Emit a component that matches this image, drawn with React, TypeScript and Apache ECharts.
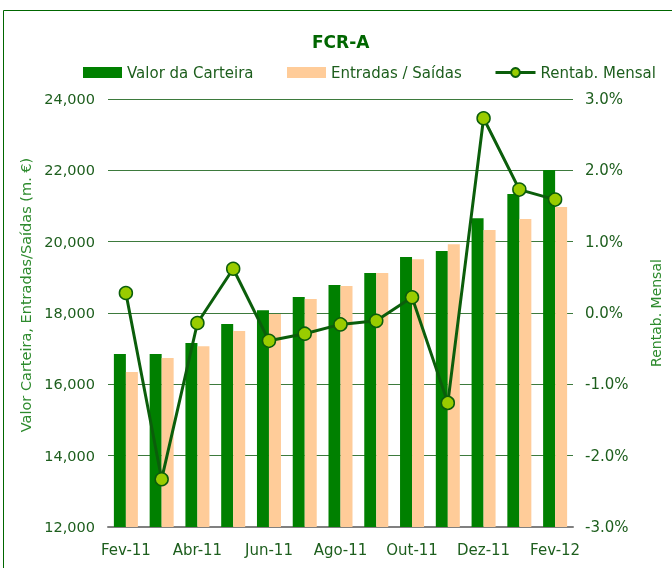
import React, { useEffect, useRef } from "react";
import * as echarts from "echarts";

const categories = ["Fev-11", "Mar-11", "Abr-11", "Mai-11", "Jun-11", "Jul-11", "Ago-11", "Set-11", "Out-11", "Nov-11", "Dez-11", "Jan-12", "Fev-12"];
const valorCarteira = [16850, 16850, 17160, 17690, 18080, 18450, 18785, 19120, 19570, 19740, 20660, 21335, 22010];
const entradasSaidas = [16345, 16740, 17070, 17495, 17970, 18390, 18755, 19120, 19510, 19930, 20330, 20635, 20970];
const rentabMensal = [0.28, -2.33, -0.14, 0.62, -0.39, -0.29, -0.16, -0.11, 0.22, -1.26, 2.73, 1.73, 1.59];

const FONT = "DejaVu Sans, Verdana, sans-serif";
const DARK = "#1d5e1d";
const NAMECOL = "#2e8b2e";

const legendText = { color: DARK, fontSize: 15, fontFamily: FONT };

export default function App() {
  const ref = useRef<HTMLDivElement>(null);
  useEffect(() => {
    if (!ref.current) return;
    const chart = echarts.init(ref.current, undefined, { renderer: "svg" });
    chart.setOption({
      animation: false,
      textStyle: { fontFamily: FONT },
      title: {
        text: "FCR-A",
        left: 312,
        top: 33,
        padding: 0,
        textStyle: { color: "#006600", fontSize: 17, fontWeight: "bold", fontFamily: FONT },
      },
      legend: [
        {
          left: 83,
          top: 65,
          padding: 0,
          itemWidth: 39,
          itemHeight: 11,
          textStyle: legendText,
          data: [{ name: "Valor da Carteira", icon: "rect" }],
        },
        {
          left: 287,
          top: 65,
          padding: 0,
          itemWidth: 39,
          itemHeight: 11,
          textStyle: legendText,
          data: [{ name: "Entradas / Saídas", icon: "rect" }],
        },
        {
          left: 494,
          top: 65,
          padding: 0,
          itemWidth: 40,
          itemHeight: 11,
          textStyle: legendText,
          data: [{ name: "Rentab. Mensal", lineStyle: { width: 3 } }],
        },
      ],
      graphic: [
        {
          type: "rect",
          shape: { x: 3.5, y: 10.5, width: 720, height: 600 },
          style: { fill: "none", stroke: "#006600", lineWidth: 1 },
          silent: true,
        },
      ],
      grid: { left: 108, right: 99, top: 99, bottom: 41 },
      xAxis: {
        type: "category",
        data: categories,
        boundaryGap: true,
        axisLine: { onZero: false, lineStyle: { color: "#808080", width: 2 } },
        axisTick: { interval: 1, length: 5, lineStyle: { color: "#333333" } },
        axisLabel: { interval: 1, color: DARK, fontSize: 15, fontFamily: FONT, margin: 15 },
      },
      yAxis: [
        {
          type: "value",
          min: 12000,
          max: 24000,
          interval: 2000,
          name: "Valor Carteira, Entradas/Saídas (m. €)",
          nameLocation: "middle",
          nameGap: 74,
          nameTextStyle: { color: NAMECOL, fontSize: 14.5, fontFamily: FONT, padding: [0, 0, 0, 36] },
          axisLine: { show: false },
          axisTick: { show: false },
          axisLabel: {
            color: DARK,
            fontSize: 14.5,
            fontFamily: FONT,
            margin: 13,
            formatter: (v: number) => v.toLocaleString("en-US"),
          },
          splitLine: { lineStyle: { color: "#3d7a3d", width: 1 } },
        },
        {
          type: "value",
          min: -3,
          max: 3,
          interval: 1,
          name: "Rentab. Mensal",
          nameLocation: "middle",
          nameGap: 76,
          nameRotate: 90,
          nameTextStyle: { color: NAMECOL, fontSize: 14, fontFamily: FONT },
          axisLine: { show: false },
          axisTick: { show: false },
          splitLine: { show: false },
          axisLabel: {
            color: DARK,
            fontSize: 15,
            fontFamily: FONT,
            margin: 12,
            formatter: (v: number) => v.toFixed(1) + "%",
          },
        },
      ],
      series: [
        {
          name: "Valor da Carteira",
          type: "bar",
          data: valorCarteira,
          barWidth: 12,
          barGap: "0%",
          itemStyle: { color: "#008000" },
        },
        {
          name: "Entradas / Saídas",
          type: "bar",
          data: entradasSaidas,
          barWidth: 12,
          barGap: "0%",
          itemStyle: { color: "#ffcc99" },
        },
        {
          name: "Rentab. Mensal",
          type: "line",
          yAxisIndex: 1,
          data: rentabMensal,
          symbol: "circle",
          symbolSize: 13,
          lineStyle: { color: "#0b5e0b", width: 3 },
          itemStyle: { color: "#99cc00", borderColor: "#0b5e0b", borderWidth: 1.5 },
          z: 5,
        },
      ],
    });
    return () => chart.dispose();
  }, []);
  return <div ref={ref} style={{ position: "fixed", left: 0, top: 0, width: 672, height: 568 }} />;
}
